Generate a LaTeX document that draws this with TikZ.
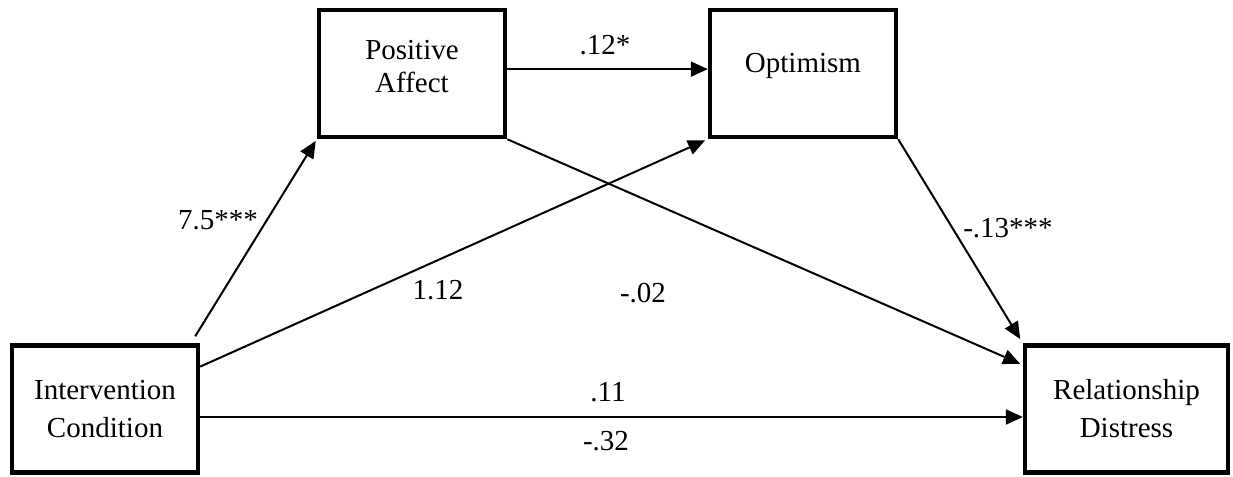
\documentclass[tikz,border=0pt]{standalone}
\usepackage{fontspec}
\setmainfont{Liberation Serif}
\usepackage{tikz}
\usetikzlibrary{arrows.meta}

\begin{document}
\begin{tikzpicture}[
    x=0.5pt, y=-0.5pt,
    font=\fontsize{14.5}{19}\selectfont,
    box/.style={rectangle, draw=black, line width=2.2pt, minimum width=93pt, minimum height=63.5pt, align=center, inner sep=0pt},
    conn/.style={draw=black, line width=1pt, -{Triangle[length=8.5pt, width=7.5pt]}},
    lbl/.style={inner sep=0pt}
]
    \useasboundingbox (0,0) rectangle (1233,477);

    % Variables
    \node (ic) at (105, 409) [box] {Intervention\\Condition};
    \node (pa) at (412, 73.5) [box, text depth=6.8pt] {Positive\\[-2.5pt]Affect};
    \node (opt) at (803, 73.5) [box, text depth=11pt] {Optimism};
    \node (rd) at (1126.5, 409) [box, minimum width=101.5pt] {Relationship\\Distress};

    % Paths
    \draw [conn, shorten >=1pt] ([xshift=-2.5pt, yshift=3.5pt]ic.north east) -- (pa.south west);
    \draw [conn, shorten >=1.5pt] (ic.24) -- (opt.south west);
    \draw [conn] ([yshift=2.2pt]pa.east) -- ([yshift=2.2pt]opt.west);
    \draw [conn, shorten >=1.5pt] (pa.south east) -- (rd.157);
    \draw [conn, shorten >=2.5pt] (opt.south east) -- (rd.north west);
    \draw [conn] ([yshift=-4pt]ic.east) -- ([yshift=-4pt]rd.west);

    % Coefficients
    \node (cpa) at (218, 220) [lbl] {7.5***};
    \node (copt) at (438, 290) [lbl] {1.12};
    \node (cpaopt) at (605, 45) [lbl] {.12*};
    \node (cpard) at (643, 293) [lbl] {-.02};
    \node (coptrd) at (1008, 228) [lbl] {-.13***};
    \node (ctot) at (608, 392) [lbl] {.11};
    \node (cdir) at (606, 441) [lbl] {-.32};

\end{tikzpicture}
\end{document}
